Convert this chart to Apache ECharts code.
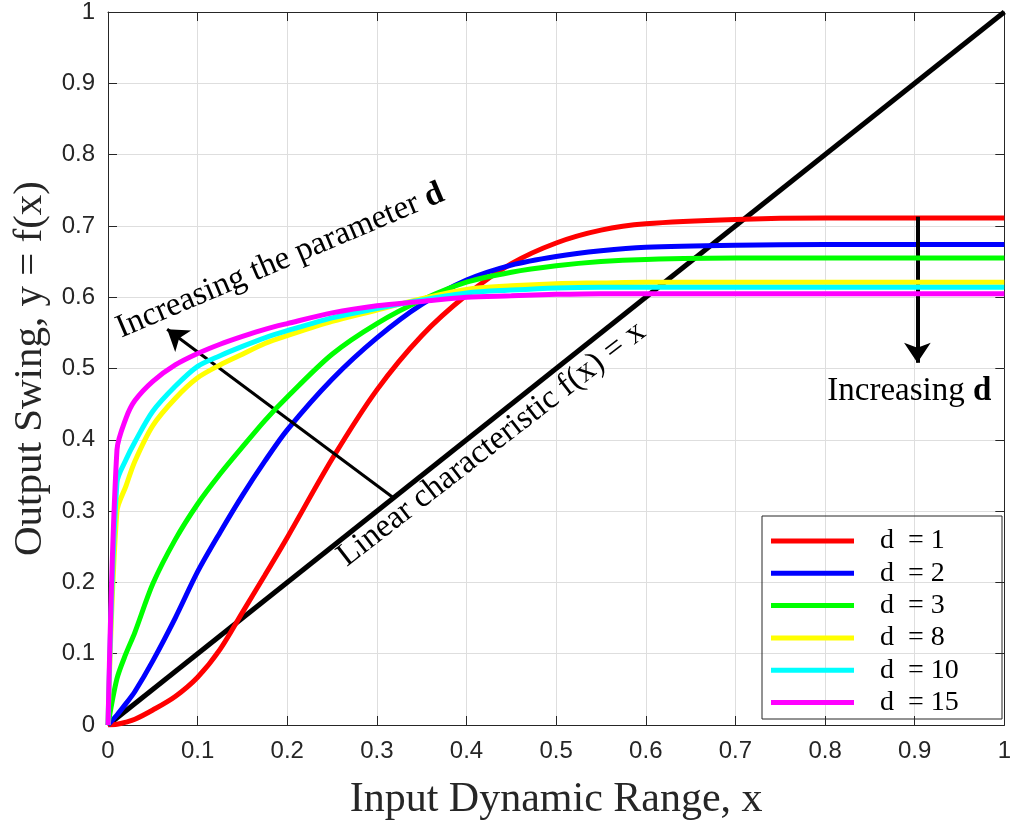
<!DOCTYPE html>
<html>
<head>
<meta charset="utf-8">
<script src="https://cdn.jsdelivr.net/npm/echarts@6/dist/echarts.min.js"></script>
<style>
html,body{margin:0;padding:0;background:#fff;}
#c{width:1014px;height:826px;}
</style>
</head>
<body>
<div id="c"></div>
<script>
// ---- data ----
const X = [0,0.01,0.02,0.03,0.05,0.075,0.1,0.125,0.15,0.175,0.2,0.25,0.3,0.35,0.4,0.45,0.5,0.55,0.6,0.7,0.8,0.9,1.0];
const d1  = [0,0.001,0.004,0.008,0.021,0.04,0.067,0.106,0.158,0.21,0.263,0.373,0.47,0.546,0.603,0.647,0.676,0.694,0.703,0.709,0.711,0.711,0.711];
const d2  = [0,0.014,0.03,0.047,0.09,0.15,0.215,0.27,0.322,0.37,0.414,0.485,0.543,0.59,0.624,0.645,0.657,0.665,0.67,0.673,0.674,0.674,0.674];
const d3  = [0,0.065,0.1,0.13,0.198,0.26,0.31,0.352,0.39,0.427,0.46,0.52,0.563,0.596,0.621,0.635,0.644,0.65,0.653,0.655,0.655,0.655,0.655];
const d8  = [0,0.3,0.335,0.37,0.42,0.458,0.487,0.505,0.52,0.535,0.546,0.566,0.582,0.598,0.611,0.616,0.619,0.62,0.621,0.621,0.621,0.621,0.621];
const d10 = [0,0.34,0.372,0.397,0.44,0.475,0.503,0.518,0.531,0.543,0.553,0.571,0.584,0.596,0.606,0.61,0.613,0.614,0.614,0.614,0.614,0.614,0.614];
const d15 = [0,0.386,0.43,0.455,0.482,0.505,0.521,0.534,0.545,0.555,0.563,0.578,0.588,0.594,0.6,0.602,0.604,0.605,0.605,0.605,0.605,0.605,0.605];
const linearX = [0,1];
const linearY = [0,1];
const seriesNames = ['d  = 1','d  = 2','d  = 3','d  = 8','d  = 10','d  = 15'];
const seriesColors = ['#ff0000','#0000ff','#00ff00','#ffff00','#00ffff','#ff00ff'];
const seriesValues = [d1,d2,d3,d8,d10,d15];
const arrowParam = [[0.318,0.319],[0.066,0.555]];
const arrowDown  = [[0.903,0.713],[0.903,0.508]];
const noteParam  = {pos:[0.192,0.651], text:'Increasing the parameter ', bold:'d', rot:23};
const noteLinear = {pos:[0.428,0.394], text:'Linear characteristic f(x) = x', rot:37.7};
const noteDown   = {pos:[0.894,0.468], text:'Increasing ', bold:'d', rot:0};

const SERIF = "'Liberation Serif','Times New Roman',serif";
const SANS = "'Liberation Sans',Arial,Helvetica,sans-serif";
const pairs = (xs, ys) => xs.map((x,i)=>[x,ys[i]]);

const chart = echarts.init(document.getElementById('c'), null, {renderer:'canvas'});

const axisCommon = {
  type:'value', min:0, max:1, interval:0.1,
  axisLine:{show:true, onZero:false, lineStyle:{color:'#262626', width:1}},
  axisTick:{show:true, inside:true, length:9, lineStyle:{color:'#262626', width:1}},
};

const series = [{
  name:'linear', type:'line', data:pairs(linearX, linearY), showSymbol:false,
  lineStyle:{color:'#000', width:5}, z:2, silent:true
}];
seriesValues.forEach((v,i)=>{
  series.push({
    name:seriesNames[i], type:'line', data:pairs(X,v), showSymbol:false, symbol:'none',
    smooth:0.3,
    lineStyle:{color:seriesColors[i], width:5}, itemStyle:{color:seriesColors[i]}, z:3+i
  });
});
series.push({
  name:'arrows', type:'line', data:[], z:20, silent:true,
  markLine:{
    silent:true, symbol:['none','arrow'], symbolSize:20, animation:false,
    label:{show:false},
    data:[
      [{coord:arrowParam[0], lineStyle:{color:'#000',width:3,type:'solid'}},{coord:arrowParam[1]}],
      [{coord:arrowDown[0], lineStyle:{color:'#000',width:4,type:'solid'}},{coord:arrowDown[1]}]
    ]
  }
});

chart.setOption({
  animation:false,
  backgroundColor:'#fff',
  grid:{left:108, right:9, top:12, bottom:100, containLabel:false},
  xAxis:[
    Object.assign({}, axisCommon, {
      position:'bottom',
      name:'Input Dynamic Range, x', nameLocation:'middle', nameGap:54,
      nameTextStyle:{fontFamily:SERIF, fontSize:42, color:'#262626'},
      axisLabel:{fontFamily:SANS, fontSize:24, color:'#262626', margin:14,
        formatter:v=>String(Math.round(v*10)/10)},
      splitLine:{show:true, lineStyle:{color:'#dedede', width:1}}
    }),
    Object.assign({}, axisCommon, {position:'top', axisLabel:{show:false}, splitLine:{show:false}})
  ],
  yAxis:[
    Object.assign({}, axisCommon, {
      position:'left',
      name:'Output Swing, y = f(x)', nameLocation:'middle', nameGap:56, nameRotate:90,
      nameTextStyle:{fontFamily:SERIF, fontSize:41, color:'#262626'},
      axisLabel:{fontFamily:SANS, fontSize:24, color:'#262626', margin:13,
        formatter:v=>String(Math.round(v*10)/10)},
      splitLine:{show:true, lineStyle:{color:'#dedede', width:1}}
    }),
    Object.assign({}, axisCommon, {position:'right', axisLabel:{show:false}, splitLine:{show:false}})
  ],
  legend:{
    data:seriesNames, orient:'vertical', left:771, top:527, padding:0,
    icon:'rect', itemWidth:83, itemHeight:5, itemGap:4.3,
    textStyle:{fontFamily:SERIF, fontSize:28, color:'#000', lineHeight:27, padding:[0,0,0,21]},
    selectedMode:false
  },
  series:series
});

function px(p){ return chart.convertToPixel({xAxisIndex:0, yAxisIndex:0}, p); }
function note(n){
  const p = px(n.pos);
  const txt = n.bold ? '{n|'+n.text+'}{b|'+n.bold+'}' : '{n|'+n.text+'}';
  return {
    type:'text', x:p[0], y:p[1], rotation:n.rot*Math.PI/180, z:100,
    style:{
      text:txt, align:'center', verticalAlign:'middle',
      rich:{
        n:{fontFamily:SERIF, fontSize:33, fill:'#000', color:'#000'},
        b:{fontFamily:SERIF, fontSize:33, fontWeight:'bold', fill:'#000', color:'#000'}
      }
    }
  };
}
chart.setOption({
  graphic:[
    note(noteParam), note(noteLinear), note(noteDown),
    {type:'rect', shape:{x:762, y:516, width:240, height:203}, z:50,
     style:{fill:'none', stroke:'#262626', lineWidth:1}}
  ]
});
</script>
</body>
</html>
